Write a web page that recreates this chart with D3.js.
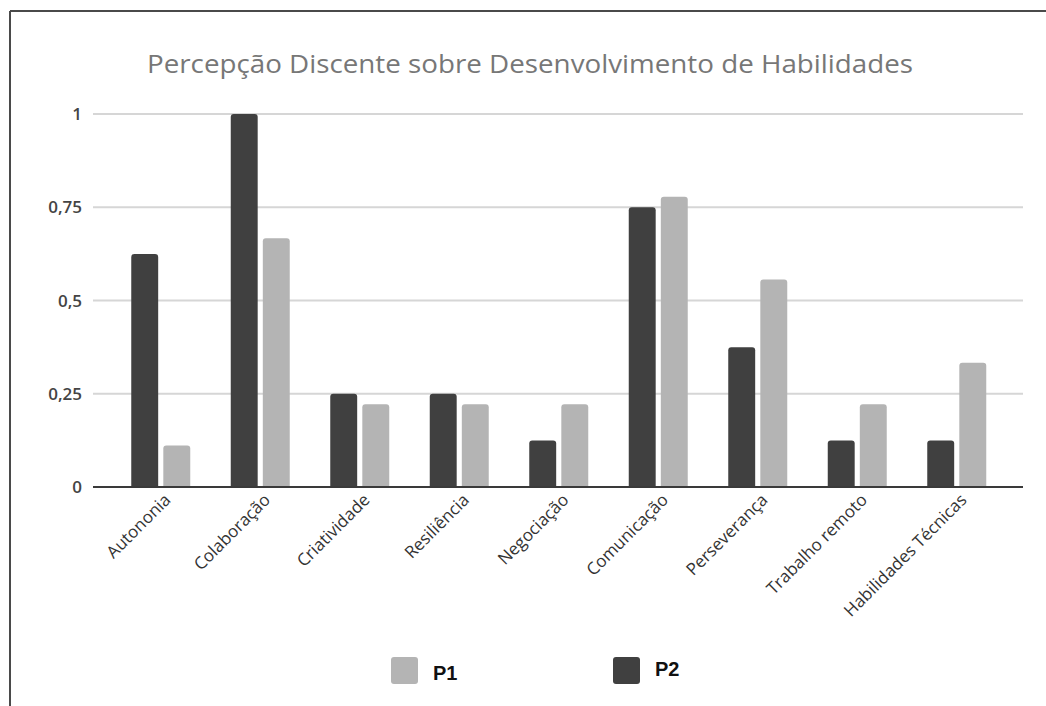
<!DOCTYPE html>
<html>
<head>
<meta charset="utf-8">
<script src="https://cdn.jsdelivr.net/npm/d3@7/dist/d3.min.js"></script>
<style>
  html, body { margin: 0; padding: 0; background: #fff; }
  svg { display: block; }
</style>
</head>
<body>
<svg id="chart" width="1046" height="706"></svg>
<script>
const title = "Percepção Discente sobre Desenvolvimento de Habilidades";
const categories = ["Autononia", "Colaboração", "Criatividade", "Resiliência", "Negociação",
  "Comunicação", "Perseverança", "Trabalho remoto", "Habilidades Técnicas"];
const p2Values = [0.625, 1.0, 0.25, 0.25, 0.125, 0.75, 0.375, 0.125, 0.125];
const p1Values = [0.111, 0.667, 0.222, 0.222, 0.222, 0.778, 0.556, 0.222, 0.333];
const yTicks = [0, 0.25, 0.5, 0.75, 1];
const yTickLabels = ["0", "0,25", "0,5", "0,75", "1"];
const seriesNames = ["P2", "P1"];
const seriesColors = {P2: "#404040", P1: "#b4b4b4"};

const svg = d3.select("#chart");

// frame (top and left border)
svg.append("line").attr("x1", 10).attr("y1", 11).attr("x2", 1046).attr("y2", 11)
  .attr("stroke", "#4a4a4a").attr("stroke-width", 2);
svg.append("line").attr("x1", 10).attr("y1", 11).attr("x2", 10).attr("y2", 706)
  .attr("stroke", "#4a4a4a").attr("stroke-width", 2);

// title
svg.append("text").attr("x", 530).attr("y", 73).attr("text-anchor", "middle")
  .attr("font-family", "Open Sans").attr("font-size", 26).attr("fill", "#777")
  .attr("textLength", 766).attr("lengthAdjust", "spacingAndGlyphs")
  .text(title);

const y = d3.scaleLinear().domain([0, 1]).range([487, 114]);
const x = d3.scaleBand().domain(categories).range([111, 1006.5]).paddingInner(0).paddingOuter(0);
const sub = d3.scaleBand().domain(seriesNames).range([-29.5, 29.5]).paddingInner(0.16).paddingOuter(0);

// grid
const gridX0 = 93, gridX1 = 1023;
svg.append("g").selectAll("line").data(yTicks.filter(d => d > 0)).join("line")
  .attr("x1", gridX0).attr("x2", gridX1)
  .attr("y1", d => y(d)).attr("y2", d => y(d))
  .attr("stroke", "#d6d6d6").attr("stroke-width", 2);

// y labels
svg.append("g").selectAll("text").data(yTicks).join("text")
  .attr("x", 82).attr("y", d => y(d)).attr("dy", "0.36em")
  .attr("text-anchor", "end").attr("font-family", "Open Sans").attr("font-size", 17)
  .attr("font-weight", 600).attr("fill", "#444")
  .text((d, i) => yTickLabels[i]);

// bars
function barPath(x0, w, yTop, yBot, r) {
  r = Math.min(r, w / 2, (yBot - yTop));
  return `M${x0},${yBot}V${yTop + r}Q${x0},${yTop} ${x0 + r},${yTop}H${x0 + w - r}Q${x0 + w},${yTop} ${x0 + w},${yTop + r}V${yBot}Z`;
}
const data = [];
categories.forEach((c, i) => {
  data.push({cat: c, s: "P2", v: p2Values[i]});
  data.push({cat: c, s: "P1", v: p1Values[i]});
});
svg.append("g").selectAll("path").data(data).join("path")
  .attr("d", d => {
    const cx = x(d.cat) + x.bandwidth() / 2;
    return barPath(cx + sub(d.s), sub.bandwidth(), y(d.v), y(0), 3);
  })
  .attr("fill", d => seriesColors[d.s]);

// zero axis line
svg.append("line").attr("x1", gridX0).attr("x2", gridX1).attr("y1", y(0)).attr("y2", y(0))
  .attr("stroke", "#3a3a3a").attr("stroke-width", 2);

// x labels
svg.append("g").selectAll("text").data(categories).join("text")
  .attr("transform", d => `translate(${x(d) + x.bandwidth() / 2 + 11},${y(0) + 14}) rotate(-45)`)
  .attr("text-anchor", "end").attr("font-family", "Open Sans").attr("font-size", 17)
  .attr("fill", "#333")
  .text(d => d);

// legend
const legend = [{s: "P1", x: 391, y: 657, ty: 680}, {s: "P2", x: 613, y: 657, ty: 676}];
const lg = svg.append("g");
lg.selectAll("rect").data(legend).join("rect")
  .attr("x", d => d.x).attr("y", d => d.y).attr("width", 27).attr("height", 27)
  .attr("rx", 3).attr("fill", d => seriesColors[d.s]);
lg.selectAll("text").data(legend).join("text")
  .attr("x", d => d.x + 42).attr("y", d => d.ty)
  .attr("font-family", "Liberation Sans").attr("font-weight", "bold").attr("font-size", 20)
  .attr("fill", "#111")
  .text(d => d.s);
</script>
</body>
</html>
